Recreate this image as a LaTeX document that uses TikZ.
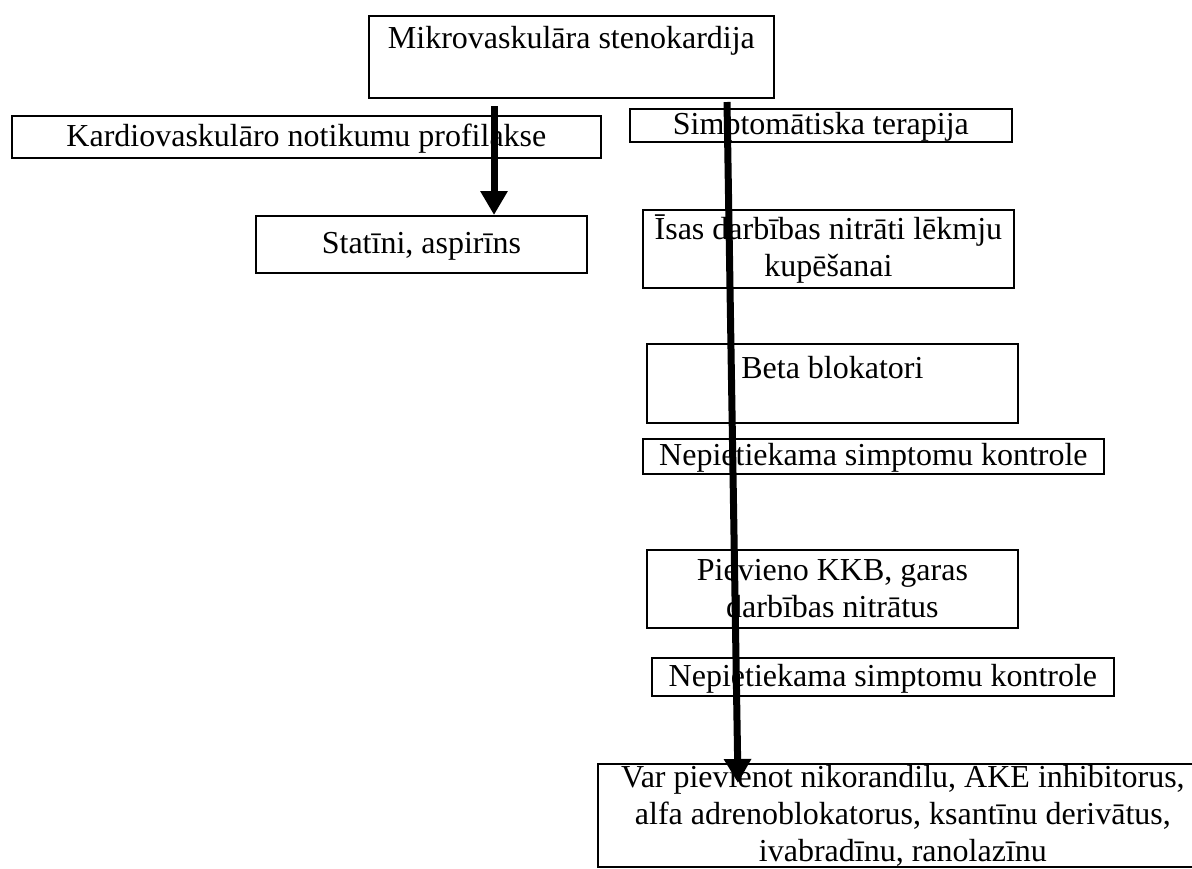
\documentclass[tikz,border=0pt]{standalone}
\usepackage{fontspec}
\setmainfont{Liberation Serif}
\usepackage{tikz}
\usetikzlibrary{arrows.meta}
\usetikzlibrary{calc}

\begin{document}
\begin{tikzpicture}[x=0.5pt, y=-0.5pt,
        box/.style={draw=black, line width=0.9pt, inner sep=0pt, align=center,
            anchor=north west, font=\fontsize{16pt}{18.5pt}\selectfont},
        oneline/.style={text height=12pt, text depth=2.5pt},
        thickarrow/.style={line width=3.5pt, -{Triangle[length=12pt, width=13pt]}}]

        \useasboundingbox (0,0) rectangle (1192,868);
        \clip (0,0) rectangle (1192,868);

        \coordinate (a1) at (494,106);
        \coordinate (a2) at (727,102);
        \coordinate (a2tip) at (738,0);

        % Top box
        \node[box, oneline, text depth=20.4pt, minimum width=202.5pt, minimum height=41pt] (mikro) at (368,15) {Mikrovaskulāra stenokardija};

        % Left branch
        \node[box, oneline, minimum width=294.5pt, minimum height=21pt] (kardio) at (11,115) {Kardiovaskulāro notikumu profilakse};
        \node[box, oneline, minimum width=165.5pt, minimum height=28.5pt] (statini) at (255,215) {Statīni, aspirīns};

        % Right branch
        \node[box, oneline, minimum width=191pt, minimum height=16.5pt] (simpt) at (629,108) {Simptomātiska terapija};
        \node[box, minimum width=185.5pt, minimum height=39pt] (isas) at (642,209) {Īsas darbības nitrāti lēkmju\\kupēšanai};
        \node[box, oneline, text depth=16.9pt, minimum width=185.5pt, minimum height=39.5pt] (beta) at (646,343) {Beta blokatori};
        \node[box, oneline, minimum width=230.5pt, minimum height=17.5pt] (nepiet1) at (642,438) {Nepietiekama simptomu kontrole};
        \node[box, minimum width=185.5pt, minimum height=39pt] (pievieno) at (646,549) {Pievieno KKB, garas\\darbības nitrātus};
        \node[box, oneline, minimum width=231pt, minimum height=19pt] (nepiet2) at (651,657) {Nepietiekama simptomu kontrole};
        \node[box, minimum width=305pt, minimum height=51.5pt] (varpiev) at (597,763) {Var pievienot nikorandilu, AKE inhibitorus,\\alfa adrenoblokatorus, ksantīnu derivātus,\\ivabradīnu, ranolazīnu};

        % Arrows
        \draw[thickarrow] (a1) -- (a1 |- statini.north);
        \draw[thickarrow] (a2) -- ($(a2tip |- varpiev.north)+(0,20)$);

\end{tikzpicture}
\end{document}
